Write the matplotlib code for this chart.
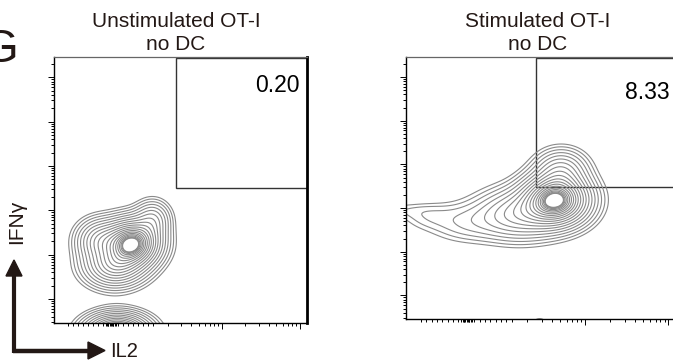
import numpy as np
import matplotlib
matplotlib.use("Agg")
import matplotlib.pyplot as plt
from matplotlib.patches import Rectangle, Polygon

plt.rcParams['font.family'] = ['Liberation Sans', 'DejaVu Sans']

# -----------------------------
# Data (channel units 0-1000 on both axes)
# -----------------------------

titles = [("Unstimulated OT-I", "no DC"), ("Stimulated OT-I", "no DC")]
gate_values = ["0.20", "8.33"]
x_label = "IL2"
y_label = "IFNγ"
panel_letter = "G"

# populations: centre x, centre y, spread x, spread y, weight
unstim_cx = [310, 240, 390, 180, 250]
unstim_cy = [300, 215, 390, 310, -40]
unstim_sx = [62, 68, 40, 52, 70]
unstim_sy = [50, 45, 40, 45, 40]
unstim_w = [1.0, 0.45, 0.2, 0.3, 1.0]

stim_cx = [555, 575, 420, 230, 80, -40, 495]
stim_cy = [455, 570, 400, 370, 390, 415, -15]
stim_sx = [70, 55, 90, 90, 60, 110, 25]
stim_sy = [55, 45, 55, 45, 30, 20, 20]
stim_w = [1.0, 0.22, 0.3, 0.08, 0.035, 0.026, 0.03]

# gates: x0, y0 (upper right quadrant)
unstim_gate = (482, 508)
stim_gate = (481, 504)

# axis scale (log decades on a display scale)
x_decades = [356, 664, 972]
y_decades = [-77, 90, 257, 423, 590, 757, 923, 1090]
decade_x = 308
decade_y = 166.7

INK = "#231815"
CONTOUR = "#8a8a8a"


def density(cx, cy, sx, sy, w, X, Y):
    Z = np.zeros_like(X)
    for a, b, c, d, e in zip(cx, cy, sx, sy, w):
        Z += e * np.exp(-0.5 * (((X - a) / c) ** 2 + ((Y - b) / d) ** 2))
    return Z


def setup_axis(ax):
    ax.set_xlim(0, 1000)
    ax.set_ylim(0, 1000)
    ks = np.log10(np.arange(2, 10))
    xmin = [m + decade_x * k for m in x_decades for k in ks]
    xmin = [v for v in xmin if 440 < v < 1000]
    xmin += list(np.linspace(55, 391, 18)) + list(np.linspace(205, 245, 9))
    ymin = [m + decade_y * k for m in y_decades for k in ks]
    ymin = [v for v in ymin if 0 < v < 1000]
    ax.set_xticks(x_decades[1:])
    ax.set_xticks(xmin, minor=True)
    ax.set_yticks([v for v in y_decades if 0 < v < 1000])
    ax.set_yticks(ymin, minor=True)
    ax.tick_params(which="both", direction="out", width=0.7, color="black",
                   labelbottom=False, labelleft=False)
    ax.tick_params(which="major", length=4.0)
    ax.tick_params(which="minor", length=2.4)
    for s in ["left", "bottom"]:
        ax.spines[s].set_color("black")
        ax.spines[s].set_linewidth(1.0)
    ax.spines["top"].set_color("#666666")
    ax.spines["top"].set_linewidth(0.9)


W, H = 673, 362
fig = plt.figure(figsize=(W / 100, H / 100), dpi=100)


def px_axes(x0, y0, x1, y1):
    return fig.add_axes([x0 / W, 1 - y1 / H, (x1 - x0) / W, (y1 - y0) / H])


ax1 = px_axes(54, 57, 307, 323)
ax2 = px_axes(406, 57, 676, 319)

gx = np.linspace(-200, 1200, 560)
gy = np.linspace(-200, 1200, 560)
X, Y = np.meshgrid(gx, gy)
t = np.linspace(1, 0, 20)
radii = 0.45 + (2.8 - 0.45) * t ** 1.5

for ax, pops, gate, val in [
    (ax1, (unstim_cx, unstim_cy, unstim_sx, unstim_sy, unstim_w), unstim_gate, gate_values[0]),
    (ax2, (stim_cx, stim_cy, stim_sx, stim_sy, stim_w), stim_gate, gate_values[1]),
]:
    setup_axis(ax)
    Z = density(*pops, X, Y)
    peak = Z[Y > 100].max()
    levels = peak * np.exp(-0.5 * radii ** 2)
    ax.contour(X, Y, Z, levels=levels, colors=CONTOUR, linewidths=0.8)
    ax.add_patch(Rectangle(gate, 1200 - gate[0], 996 - gate[1], fill=False,
                           ec="#333333", lw=1.0))

ax1.spines["right"].set_color("black")
ax1.spines["right"].set_linewidth(2.0)
ax2.spines["right"].set_visible(False)

# gate values
fig.text(300 / W, 1 - 92 / H, gate_values[0], ha="right", va="baseline",
         fontsize=16.5, color="black")
fig.text(670 / W, 1 - 99 / H, gate_values[1], ha="right", va="baseline",
         fontsize=16.5, color="black")

# titles
for cxp, (l1, l2) in zip([176, 538], titles):
    fig.text(cxp / W, 1 - 27 / H, l1, ha="center", va="baseline", fontsize=15, color=INK)
    fig.text(cxp / W, 1 - 49.5 / H, l2, ha="center", va="baseline", fontsize=15, color=INK)

# axis labels and arrows
over = fig.add_axes([0, 0, 1, 1])
over.set_xlim(0, W)
over.set_ylim(H, 0)
over.axis("off")
over.plot([14, 14], [353, 274], color=INK, lw=3.0, solid_capstyle="butt")
over.plot([12.5, 89], [350.5, 350.5], color=INK, lw=3.2, solid_capstyle="butt")
over.add_patch(Polygon([(6, 276), (22, 276), (14, 260)], closed=True, color=INK))
over.add_patch(Polygon([(88, 342), (88, 359), (105, 350.5)], closed=True, color=INK))

fig.text(110 / W, 1 - 357 / H, x_label, ha="left", va="baseline", fontsize=14.5, color=INK)
fig.text(16.5 / W, 1 - 222 / H, y_label, ha="center", va="center", rotation=90,
         fontsize=15, color=INK)
fig.text(-17 / W, 1 - 62 / H, panel_letter, ha="left", va="baseline", fontsize=33, color=INK)

fig.savefig("out.png", dpi=100)
